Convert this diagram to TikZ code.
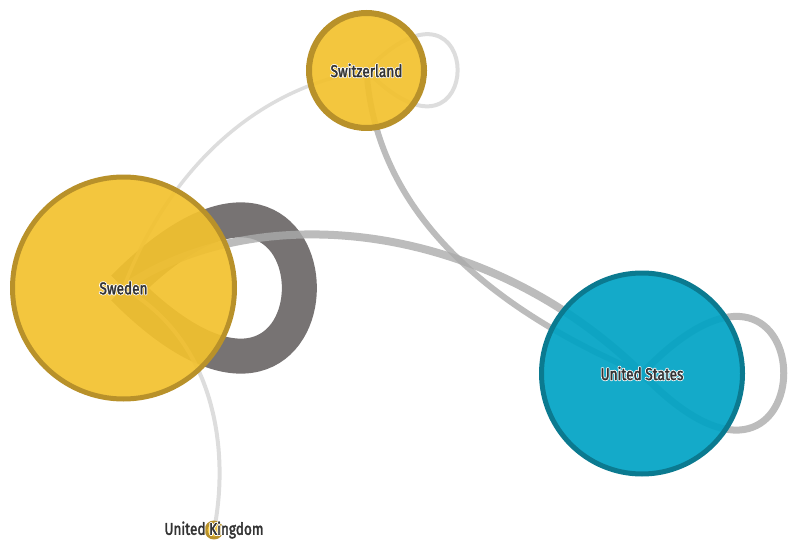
\documentclass[tikz,border=0pt]{standalone}
\usepackage{fontspec}
\setmainfont{Fira Sans}[FakeStretch=0.8, FakeBold=2]
\newfontfamily\halofont{Fira Sans}[FakeStretch=0.8, FakeBold=12]
\definecolor{nodegold}{HTML}{F2C12E}
\definecolor{rimgold}{HTML}{B8912A}
\definecolor{nodeteal}{HTML}{00A3C4}
\definecolor{rimteal}{HTML}{0B7A90}
\definecolor{labelgrey}{HTML}{333333}
\definecolor{loopdark}{HTML}{5F5B5B}
\definecolor{linkmid}{HTML}{ABABAB}
\definecolor{linklight}{HTML}{D4D4D4}
\pgfdeclarelayer{links}
\pgfsetlayers{links,main}
% label with a white halo: an emboldened white copy set behind the text
\newcommand{\haloed}[1]{\leavevmode\rlap{\halofont\color{white}#1}#1}
\begin{document}
\begin{tikzpicture}[x=1pt,y=-1pt, line join=round,
  country/.style={circle, draw, inner sep=0pt, fill opacity=0.92, text opacity=1,
    font=\fontsize{17}{17}\selectfont, text=labelgrey},
  goldnode/.style={country, fill=nodegold, draw=rimgold},
  tealnode/.style={country, fill=nodeteal, draw=rimteal},
  link/.style={line cap=butt, draw opacity=0.8},
  lbl/.style={font=\fontsize{17}{17}\selectfont, text=labelgrey}]
\useasboundingbox (0,0) rectangle (791,545);

% countries
\node[goldnode, line width=5pt, minimum size=222pt] (swe) at (123.5,288) {\haloed{Sweden}};
\node[goldnode, line width=6pt, minimum size=115pt] (che) at (366.5,70.5) {\haloed{Switzerland}};
\node[tealnode, line width=5pt, minimum size=201pt] (usa) at (642,373.5) {\haloed{United States}};
\node[goldnode, line width=3pt, minimum size=16pt,
      label={[lbl]center:\haloed{United Kingdom}}] (gbr) at (214,530) {};

% flows between countries
\begin{pgfonlayer}{links}
  \draw[link, loopdark, line width=35pt, draw opacity=0.85]
    (swe.center) .. controls (358,52) and (358,524) .. (swe.center);
  \draw[link, linkmid, line width=8pt]
    (swe.center) .. controls (250,200) and (480,215) .. (usa.center);
  \draw[link, linkmid, line width=6pt]
    (che.center) .. controls (375,200) and (470,300) .. (usa.center);
  \draw[link, linkmid, line width=7pt]
    (usa.center) .. controls (831,176) and (831,570) .. (usa.center);
  \draw[link, linklight, line width=3.5pt]
    (swe.center) .. controls (160,190) and (240,90) .. (che.center);
  \draw[link, linklight, line width=4pt]
    (che.center) .. controls (488,-55) and (488,195) .. (che.center);
  \draw[link, linklight, line width=4pt]
    (swe.center) .. controls (215,340) and (230,450) .. (gbr.center);
\end{pgfonlayer}
\end{tikzpicture}
\end{document}
